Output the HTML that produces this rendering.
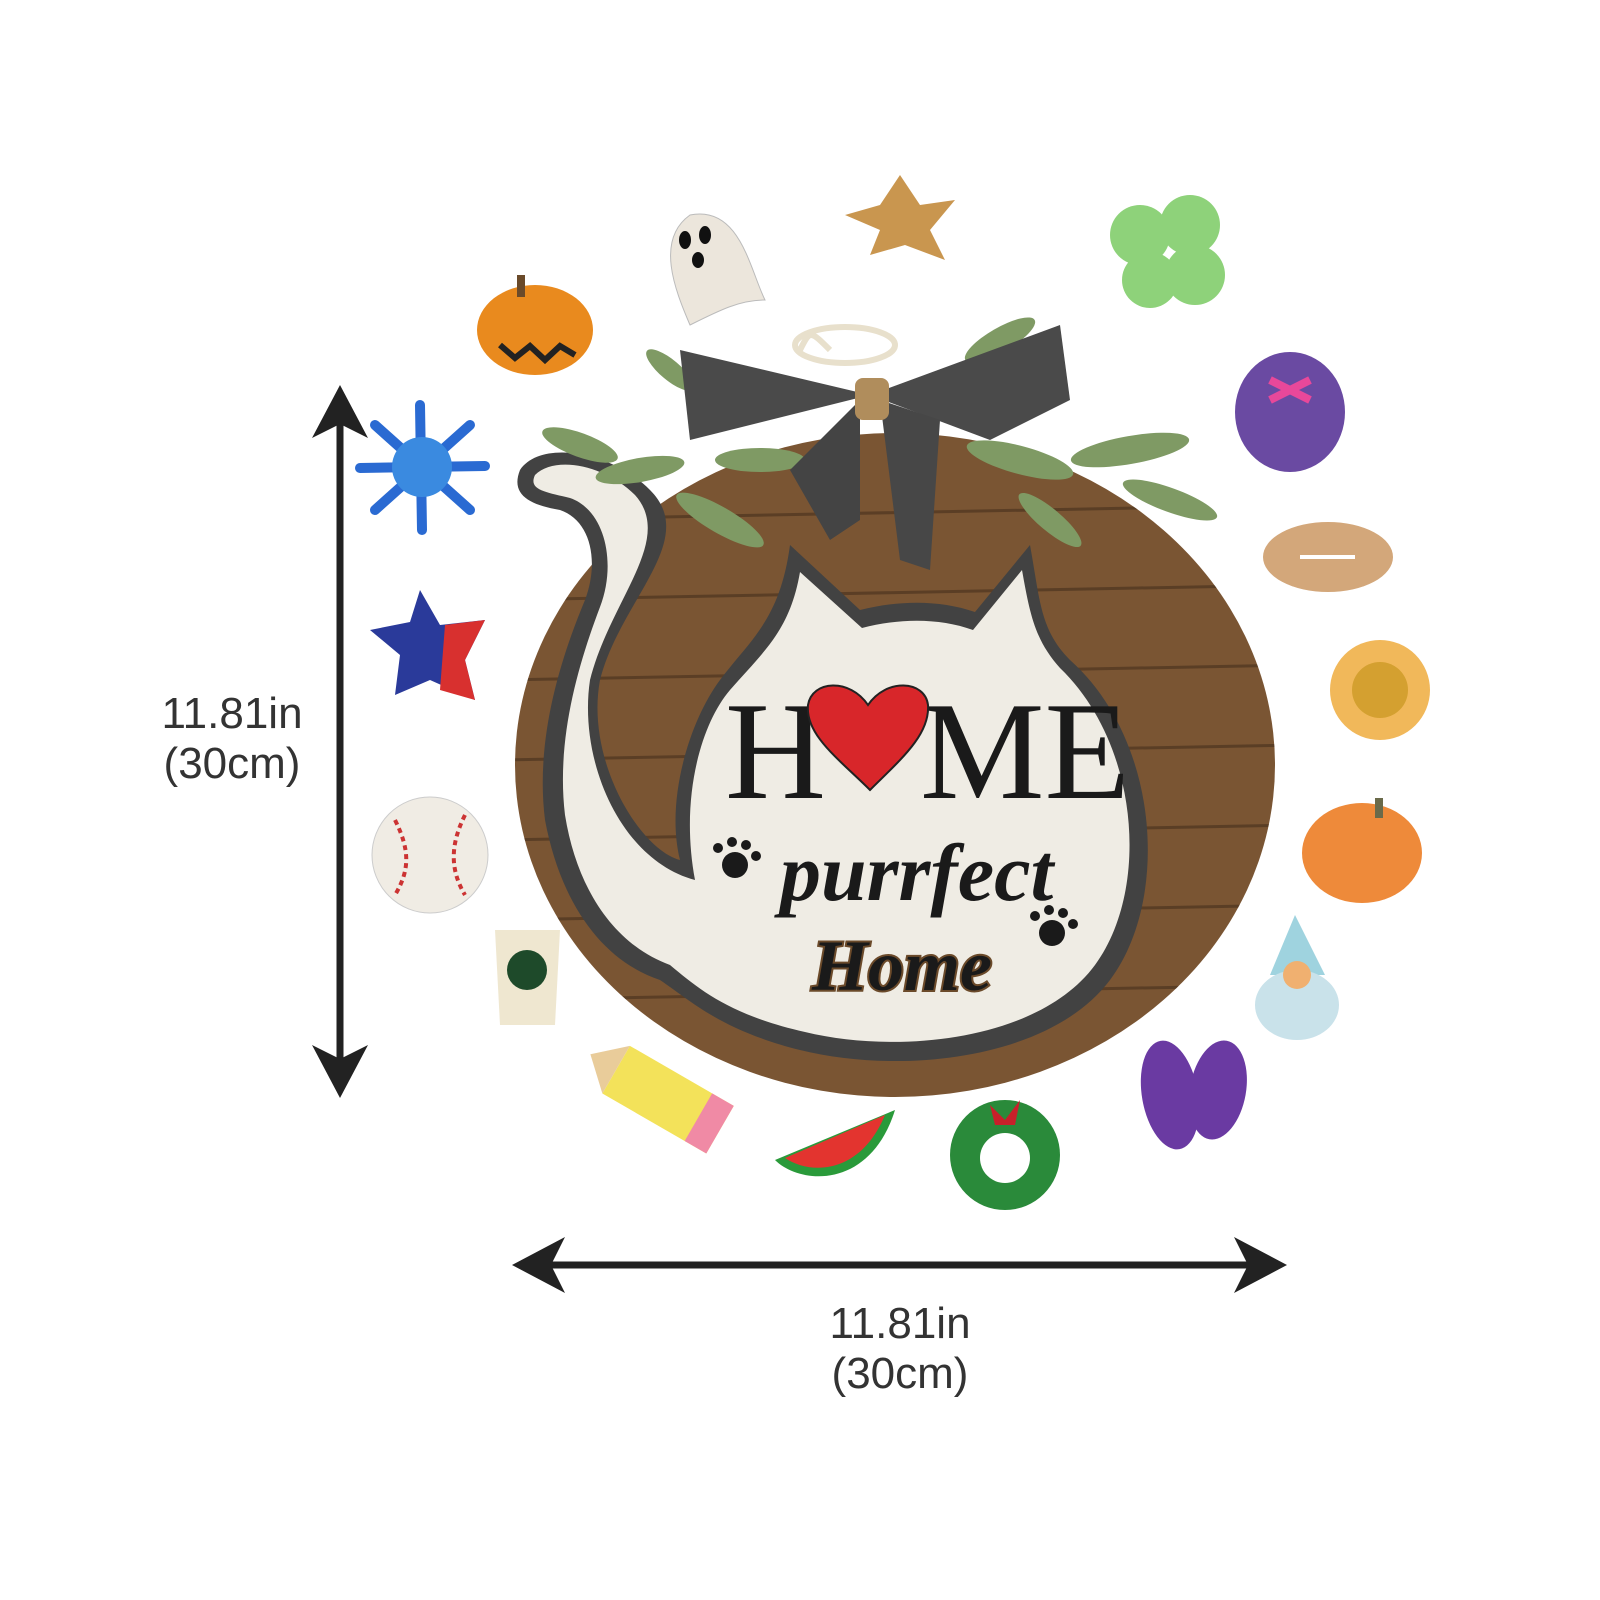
<!DOCTYPE html>
<html><head><meta charset="utf-8"><style>
html,body{margin:0;padding:0;background:#fff;}
svg{display:block}
</style></head><body>
<svg width="1600" height="1600" viewBox="0 0 1600 1600" xmlns="http://www.w3.org/2000/svg">
<rect width="1600" height="1600" fill="#fff"/>
<!-- dimension arrows -->
<g fill="#222" stroke="#222">
<line x1="340" y1="420" x2="340" y2="1060" stroke-width="7"/>
<path d="M340 385 L312 438 L340 424 L368 438 Z" stroke="none"/>
<path d="M340 1098 L312 1045 L340 1059 L368 1045 Z" stroke="none"/>
<line x1="545" y1="1265" x2="1252" y2="1265" stroke-width="7"/>
<path d="M512 1265 L565 1237 L551 1265 L565 1293 Z" stroke="none"/>
<path d="M1287 1265 L1234 1237 L1248 1265 L1234 1293 Z" stroke="none"/>
</g>
<g font-family="Liberation Sans, sans-serif" font-size="44" fill="#333" text-anchor="middle">
<text x="232" y="728">11.81in</text><text x="232" y="778">(30cm)</text>
<text x="900" y="1338">11.81in</text><text x="900" y="1388">(30cm)</text>
</g>
<!-- wood circle -->
<defs><clipPath id="wc"><ellipse cx="895" cy="765" rx="380" ry="332"/></clipPath></defs>
<ellipse cx="895" cy="765" rx="380" ry="332" fill="#7a5533"/>
<g clip-path="url(#wc)" stroke="#4e3520" stroke-width="3" opacity=".7">
<line x1="500" y1="520" x2="1300" y2="505"/><line x1="500" y1="600" x2="1300" y2="585"/>
<line x1="500" y1="680" x2="1300" y2="665"/><line x1="500" y1="760" x2="1300" y2="745"/>
<line x1="500" y1="840" x2="1300" y2="825"/><line x1="500" y1="920" x2="1300" y2="905"/>
<line x1="500" y1="1000" x2="1300" y2="985"/>
</g>
<!-- cat -->
<path d="M520 470 C540 440 610 450 650 490 C700 540 620 600 600 680 C585 760 640 850 680 860 C665 800 690 720 720 680 C750 640 780 620 790 545 L860 610 C900 600 940 600 975 612 L1030 545 C1040 600 1040 630 1070 660 C1160 740 1170 900 1110 980 C1050 1060 900 1075 800 1050 C720 1030 690 1000 660 980 C600 960 560 900 545 820 C535 740 560 660 585 600 C600 560 590 520 560 510 C530 505 510 495 520 470 Z" fill="#424242"/>
<path d="M535 475 C555 455 605 465 635 495 C675 540 610 600 590 680 C578 760 620 860 695 880 C680 800 700 725 730 690 C765 650 790 630 800 572 L862 628 C900 618 940 618 973 630 L1022 570 C1030 615 1035 640 1060 668 C1140 745 1150 890 1095 965 C1040 1040 900 1055 805 1032 C730 1015 700 990 670 965 C615 945 577 890 565 815 C556 740 578 665 600 607 C617 563 605 510 570 498 C545 492 528 490 535 475 Z" fill="#efece4"/>
<!-- greenery -->
<g fill="#7f9a64">
<ellipse cx="580" cy="445" rx="40" ry="12" transform="rotate(20 580 445)"/><ellipse cx="640" cy="470" rx="45" ry="12" transform="rotate(-10 640 470)"/>
<ellipse cx="720" cy="520" rx="50" ry="13" transform="rotate(30 720 520)"/><ellipse cx="760" cy="460" rx="45" ry="12"/>
<ellipse cx="1000" cy="340" rx="40" ry="12" transform="rotate(-30 1000 340)"/><ellipse cx="1020" cy="460" rx="55" ry="14" transform="rotate(15 1020 460)"/>
<ellipse cx="1130" cy="450" rx="60" ry="14" transform="rotate(-10 1130 450)"/><ellipse cx="1170" cy="500" rx="50" ry="12" transform="rotate(20 1170 500)"/>
<ellipse cx="1050" cy="520" rx="40" ry="11" transform="rotate(40 1050 520)"/><ellipse cx="670" cy="370" rx="30" ry="10" transform="rotate(40 670 370)"/>
</g>
<!-- bow -->
<path d="M830 350 C810 330 810 330 800 350" stroke="#e8e0cc" stroke-width="6" fill="none"/>
<ellipse cx="845" cy="345" rx="50" ry="18" fill="none" stroke="#e8e0cc" stroke-width="6"/>
<path d="M870 395 L680 350 L690 440 Z" fill="#4a4a4a"/>
<path d="M870 395 L1060 325 L1070 400 L990 440 Z" fill="#4a4a4a"/>
<path d="M860 400 L790 470 L830 540 L860 520 Z" fill="#444"/>
<path d="M880 400 L940 420 L930 570 L900 560 Z" fill="#474747"/>
<rect x="855" y="378" width="34" height="42" rx="8" fill="#b08d5c"/>
<!-- text -->
<g font-family="Liberation Serif, serif" fill="#1a1a1a">
<text x="725" y="798" font-size="140" font-weight="normal">H</text>
<text x="920" y="798" font-size="140">ME</text>
</g>
<path d="M870 790 C840 760 805 735 808 705 C812 680 850 678 868 705 C886 678 925 680 928 705 C930 735 900 760 870 790 Z" fill="#d8262a" stroke="#222" stroke-width="2"/>
<text x="780" y="900" font-family="Liberation Serif, serif" font-style="italic" font-weight="bold" font-size="82" fill="#1a1a1a">purrfect</text>
<text x="812" y="990" font-family="Liberation Serif, serif" font-style="italic" font-weight="bold" font-size="72" fill="#1a1a1a" stroke="#6b4a2a" stroke-width="4" paint-order="stroke">Home</text>
<g fill="#1a1a1a"><circle cx="735" cy="865" r="13"/><circle cx="718" cy="848" r="5"/><circle cx="732" cy="842" r="5"/><circle cx="746" cy="845" r="5"/><circle cx="756" cy="856" r="5"/>
<circle cx="1052" cy="933" r="13"/><circle cx="1035" cy="916" r="5"/><circle cx="1049" cy="910" r="5"/><circle cx="1063" cy="913" r="5"/><circle cx="1073" cy="924" r="5"/></g>
<!-- icons -->
<ellipse cx="535" cy="330" rx="58" ry="45" fill="#e98a1e"/><rect x="517" y="275" width="8" height="22" fill="#6a4a2a"/>
<path d="M500 345 L515 358 L530 346 L545 360 L560 346 L575 355" stroke="#222" stroke-width="6" fill="none"/>
<path d="M690 215 C740 205 750 270 765 300 C740 300 720 310 690 325 C675 290 655 240 690 215 Z" fill="#ece6dc" stroke="#bbb"/>
<g fill="#111"><ellipse cx="685" cy="240" rx="6" ry="9"/><ellipse cx="705" cy="235" rx="6" ry="9"/><ellipse cx="698" cy="260" rx="6" ry="8"/></g>
<path d="M900 175 L920 205 L955 200 L930 230 L945 260 L905 245 L870 255 L880 230 L845 215 L880 205 Z" fill="#c9964f"/>
<g fill="#8ed27a"><circle cx="1140" cy="235" r="30"/><circle cx="1190" cy="225" r="30"/><circle cx="1195" cy="275" r="30"/><circle cx="1150" cy="280" r="28"/></g>
<ellipse cx="1290" cy="412" rx="55" ry="60" fill="#6a4aa2"/><path d="M1270 380 L1310 400 M1310 380 L1270 400" stroke="#e8489a" stroke-width="8"/>
<ellipse cx="1328" cy="557" rx="65" ry="35" fill="#d3a77a"/><line x1="1300" y1="557" x2="1355" y2="557" stroke="#fff" stroke-width="4"/>
<circle cx="1380" cy="690" r="50" fill="#f1b85a"/><circle cx="1380" cy="690" r="28" fill="#d4a030"/>
<ellipse cx="1362" cy="853" rx="60" ry="50" fill="#ee8a3a"/><rect x="1375" y="798" width="8" height="20" fill="#6a6a4a"/>
<path d="M1295 915 L1270 975 L1325 975 Z" fill="#9fd3df"/><ellipse cx="1297" cy="1005" rx="42" ry="35" fill="#c9e2ea"/><circle cx="1297" cy="975" r="14" fill="#f0b070"/>
<ellipse cx="1170" cy="1095" rx="28" ry="55" fill="#6a3aa2" transform="rotate(-10 1170 1095)"/><ellipse cx="1218" cy="1090" rx="28" ry="50" fill="#6a3aa2" transform="rotate(10 1218 1090)"/>
<circle cx="1005" cy="1155" r="55" fill="#2a8a3a"/><circle cx="1005" cy="1158" r="25" fill="#fff"/><path d="M990 1105 L1005 1120 L1020 1100 L1015 1125 L995 1125 Z" fill="#c8202a"/>
<path d="M775 1160 C800 1185 870 1190 895 1110 Z" fill="#2a9a3a"/><path d="M785 1158 C810 1175 860 1175 885 1115 Z" fill="#e3342f"/>
<g transform="rotate(30 665 1095)"><rect x="610" y="1070" width="120" height="55" fill="#f3e25a"/><rect x="705" y="1070" width="25" height="55" fill="#f08aa5"/><path d="M610 1070 L580 1097 L610 1125 Z" fill="#e9cc9a"/></g>
<path d="M495 930 L560 930 L555 1025 L500 1025 Z" fill="#efe7d0"/><circle cx="527" cy="970" r="20" fill="#1e4a2a"/>
<circle cx="430" cy="855" r="58" fill="#f0ece4" stroke="#ccc"/><path d="M395 820 C410 850 410 870 395 895 M465 815 C450 845 450 870 465 895" stroke="#c33" stroke-width="4" fill="none" stroke-dasharray="5 4"/>
<path d="M420 590 L440 625 L485 620 L465 660 L475 700 L430 680 L395 695 L400 655 L370 630 L410 622 Z" fill="#2a3a9a"/><path d="M445 625 L485 620 L465 660 L475 700 L440 690 Z" fill="#d8302f"/>
<g stroke="#2a6ad2" stroke-width="10" stroke-linecap="round"><line x1="420" y1="405" x2="422" y2="530"/><line x1="360" y1="468" x2="485" y2="466"/><line x1="375" y1="425" x2="470" y2="510"/><line x1="470" y1="425" x2="375" y2="510"/></g>
<circle cx="422" cy="467" r="30" fill="#3a8ae0"/>
</svg>
</body></html>
